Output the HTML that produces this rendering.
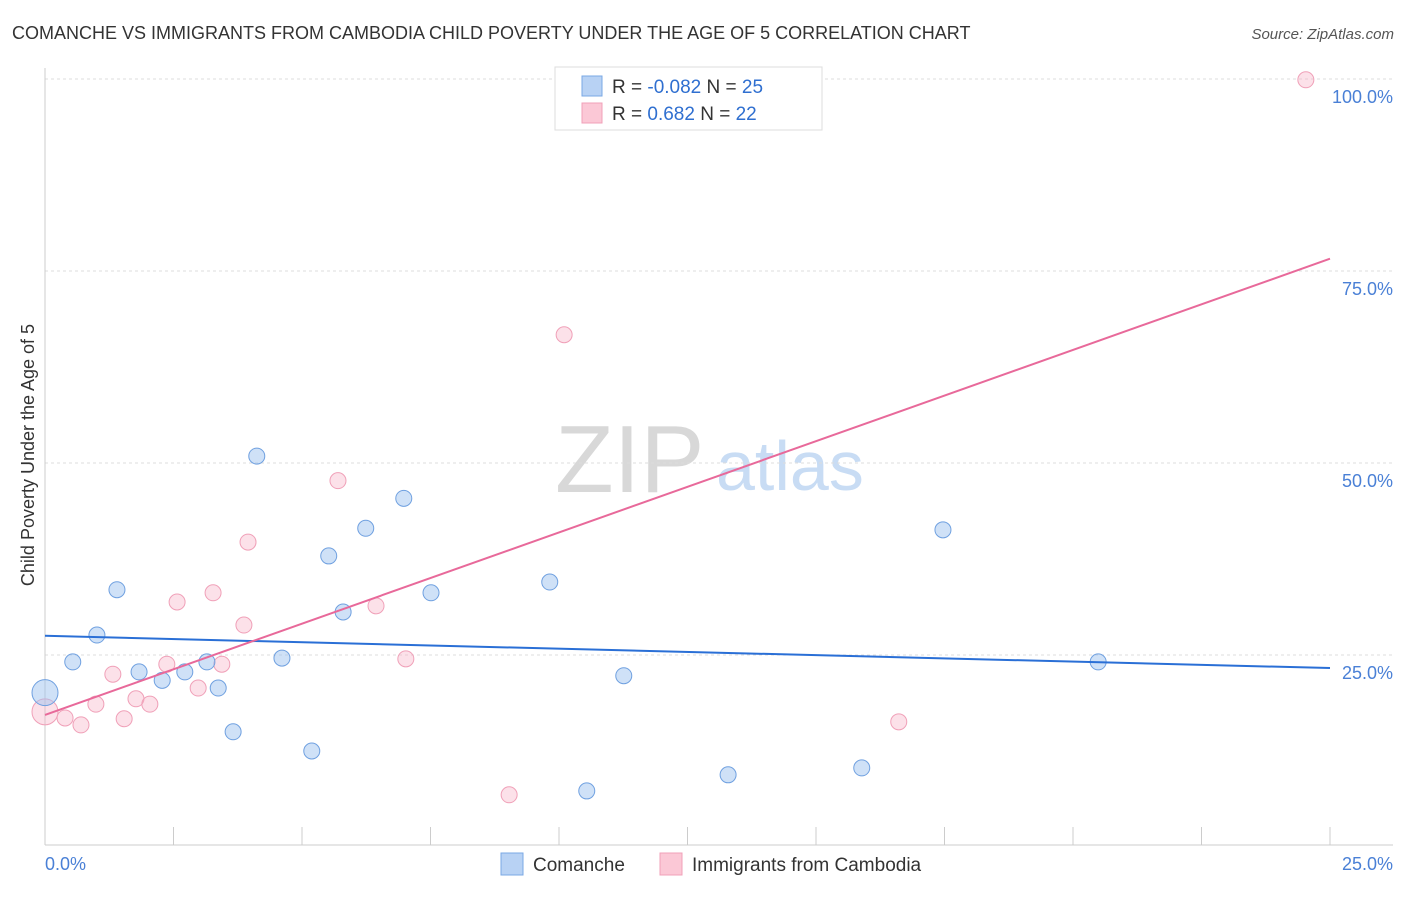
<!DOCTYPE html>
<html><head><meta charset="utf-8"><style>
body{margin:0;background:#fff;font-family:"Liberation Sans",sans-serif;}
svg text{font-family:"Liberation Sans",sans-serif;}
</style></head><body>
<svg id="chart" width="1406" height="892" xmlns="http://www.w3.org/2000/svg">
<text x="12" y="39" font-size="18" fill="#333">COMANCHE VS IMMIGRANTS FROM CAMBODIA CHILD POVERTY UNDER THE AGE OF 5 CORRELATION CHART</text>
<text x="1394" y="39" font-size="15" fill="#555" font-style="italic" text-anchor="end">Source: ZipAtlas.com</text>
<g>
<text x="555" y="492" font-size="96" fill="#d8d8d8" font-family="Liberation Serif,serif">ZIP</text>
<text x="716" y="490" font-size="70" fill="#c8dcf4">atlas</text>
</g>
<g id="grid"></g>
<g id="axes"></g>
<g id="marks"></g>
<text transform="translate(34,455) rotate(-90)" font-size="18" fill="#333" text-anchor="middle">Child Poverty Under the Age of 5</text>
<g>
<rect x="555" y="67" width="267" height="63" fill="#fff" stroke="#ddd"/>
<rect x="582" y="76" width="20" height="20" fill="#b8d2f4" stroke="#7aa8e4"/>
<rect x="582" y="103" width="20" height="20" fill="#fbc8d6" stroke="#f0a0b8"/>
<text x="612" y="93" font-size="19" fill="#333">R = <tspan fill="#2f6fd0">-0.082</tspan>   N = <tspan fill="#2f6fd0">25</tspan></text>
<text x="612" y="120" font-size="19" fill="#333">R =  <tspan fill="#2f6fd0"> 0.682</tspan>   N = <tspan fill="#2f6fd0">22</tspan></text>
</g>
<g>
<rect x="501" y="853" width="22" height="22" fill="#b8d2f4" stroke="#7aa8e4"/>
<text x="533" y="871" font-size="19" fill="#333">Comanche</text>
<rect x="660" y="853" width="22" height="22" fill="#fbc8d6" stroke="#f0a0b8"/>
<text x="692" y="871" font-size="19" fill="#333">Immigrants from Cambodia</text>
</g>
</svg>
<script>
const blueX=[0,0.54,1.01,1.40,1.83,2.28,2.72,3.15,3.37,3.66,4.12,4.61,5.19,5.52,5.80,6.24,6.98,7.51,9.82,11.26,10.54,13.29,15.89,17.47,20.49];
const blueY=[20.1,24.1,27.6,33.5,22.8,21.7,22.8,24.1,20.7,15.0,50.9,24.6,12.5,37.9,30.6,41.5,45.4,33.1,34.5,22.3,7.3,9.4,10.3,41.3,24.1];
const pinkX=[0,0.39,0.70,0.99,1.32,1.54,1.77,2.04,2.37,2.57,2.98,3.27,3.44,3.87,3.95,5.70,6.44,7.02,9.03,10.10,16.61,24.53];
const pinkY=[17.6,16.8,15.9,18.6,22.5,16.7,19.3,18.6,23.8,31.9,20.7,33.1,23.8,28.9,39.7,47.7,31.4,24.5,6.8,66.7,16.3,99.9];
const blueLine=[27.5,23.3];
const pinkLine=[17.2,76.6];
const yTicks=[25,50,75,100];
const yTickLabels=["25.0%","50.0%","75.0%","100.0%"];
const xTickLabels=["0.0%","25.0%"];
const NS="http://www.w3.org/2000/svg";
const sx=v=>45+v*51.4, sy=v=>847-v*7.68;
function mk(t,a,p){const e=document.createElementNS(NS,t);for(const k in a)e.setAttribute(k,a[k]);p.appendChild(e);return e;}
const grid=document.getElementById('grid'),axes=document.getElementById('axes'),marks=document.getElementById('marks');
yTicks.forEach((v,i)=>{
 const l=mk('line',{x1:45,x2:1393,y1:sy(v),y2:sy(v),stroke:'#ddd','stroke-dasharray':'3,3'},grid);
 
 
 const t=mk('text',{x:1393,y:sy(v)+24,'font-size':18,fill:'#4a80d6','text-anchor':'end'},axes);
 t.textContent=yTickLabels[i];
 
 
});
mk('line',{x1:45,x2:45,y1:68,y2:845,stroke:'#ccc'},axes);
mk('line',{x1:45,x2:1393,y1:845,y2:845,stroke:'#ccc'},axes);
for(let i=0;i<=10;i++){const l=mk('line',{x1:sx(i*2.5),x2:sx(i*2.5),y1:827,y2:845,stroke:'#ccc'},axes);
 
 }
const xl0=mk('text',{x:45,y:870,'font-size':18,fill:'#4a80d6'},axes);xl0.textContent=xTickLabels[0];


const xl1=mk('text',{x:1393,y:870,'font-size':18,fill:'#4a80d6','text-anchor':'end'},axes);xl1.textContent=xTickLabels[1];


function pts(X,Y,fill,stroke,name){X.forEach((x,i)=>{const c=mk('circle',{cx:sx(x),cy:sy(Y[i]),r:x===0?13:8,fill:fill,stroke:stroke,'stroke-width':1},marks);
 
 });}
pts(pinkX,pinkY,'rgba(248,180,200,0.4)','#f0a0b8','point-cambodia');
pts(blueX,blueY,'rgba(160,196,240,0.5)','#6fa0e0','point-comanche');
const bl=mk('line',{x1:sx(0),y1:sy(blueLine[0]),x2:sx(25),y2:sy(blueLine[1]),stroke:'#2a6fd6','stroke-width':2},marks);


const pl=mk('line',{x1:sx(0),y1:sy(pinkLine[0]),x2:sx(25),y2:sy(pinkLine[1]),stroke:'#e8699a','stroke-width':2},marks);


</script>
</body></html>
